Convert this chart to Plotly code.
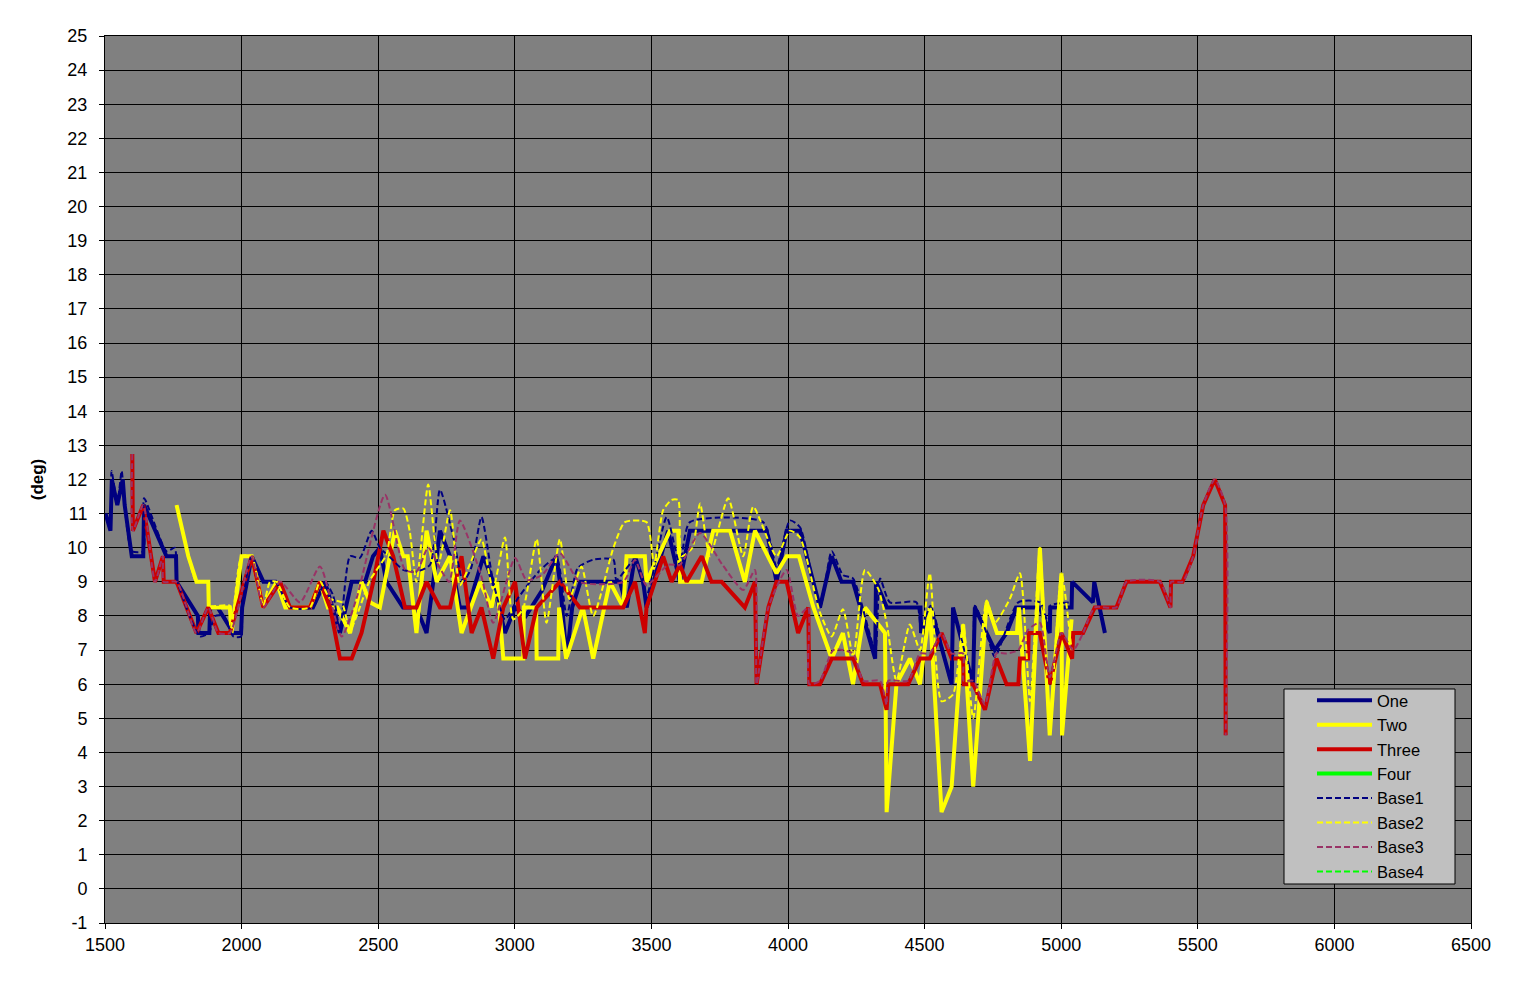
import plotly.graph_objects as go

# --- solid series ---
one_x = [1502, 1520, 1525, 1545, 1565, 1572, 1598, 1640, 1643, 1725, 1760, 1762, 1840, 1842,
         1882, 1885, 1912, 1970, 1998, 2002, 2037, 2080, 2124, 2177, 2261, 2305, 2360, 2403,
         2452, 2481, 2506, 2530, 2591, 2640, 2677, 2726, 2763, 2799, 2830, 2885, 2921, 2964,
         3001, 3040, 3100, 3152, 3165, 3190, 3210, 3240, 3385, 3410, 3440, 3470, 3482, 3561,
         3604, 3641, 3922, 3958, 3995, 4044, 4117, 4160, 4196, 4238, 4319, 4322, 4362, 4485,
         4487, 4522, 4599, 4604, 4677, 4684, 4727, 4757, 4800, 4837, 4922, 4958, 4960, 5038,
         5040, 5116, 5121, 5160]
one_y = [11.0, 10.5, 12.0, 11.25, 12.0, 11.25, 9.75, 9.75, 11.25, 9.75, 9.75, 9.0, 8.0, 7.5,
         7.5, 8.25, 8.25, 7.5, 7.5, 8.25, 9.75, 9.0, 9.0, 8.25, 8.25, 9.0, 7.5, 9.0,
         9.0, 9.75, 10.0, 9.0, 8.25, 8.25, 7.5, 10.5, 9.75, 8.25, 8.25, 9.75, 9.0, 7.5,
         8.25, 8.0, 8.75, 9.75, 9.0, 6.75, 8.25, 9.0, 9.0, 8.25, 9.75, 9.0, 8.25, 10.5,
         9.0, 10.5, 10.5, 9.0, 10.5, 10.5, 8.25, 9.75, 9.0, 9.0, 6.75, 9.0, 8.25, 8.25,
         7.5, 8.25, 6.0, 8.25, 6.0, 8.25, 7.5, 7.0, 7.5, 8.25, 8.25, 7.5, 8.25, 8.25,
         9.0, 8.4, 9.0, 7.5]

two_x = [1762, 1805, 1835, 1878, 1880, 1957, 1963, 2000, 2037, 2079, 2128, 2160, 2250, 2287,
         2316, 2350, 2397, 2439, 2470, 2506, 2561, 2592, 2608, 2640, 2677, 2714, 2763, 2805,
         2873, 2915, 2935, 2958, 3031, 3033, 3078, 3080, 3159, 3162, 3188, 3249, 3287, 3348,
         3397, 3409, 3476, 3482, 3568, 3598, 3605, 3684, 3726, 3788, 3842, 3879, 3958, 3995,
         4040, 4093, 4160, 4201, 4238, 4282, 4355, 4361, 4397, 4446, 4483, 4519, 4562, 4599,
         4641, 4678, 4727, 4765, 4838, 4845, 4886, 4922, 4958, 5001, 5003, 5038]
two_y = [11.25, 9.75, 9.0, 9.0, 8.25, 8.25, 7.5, 9.75, 9.75, 8.25, 9.0, 8.25, 8.25, 9.0,
         8.25, 8.25, 7.5, 9.0, 8.4, 8.25, 10.5, 9.75, 9.75, 7.5, 10.5, 9.0, 9.75, 7.5,
         9.0, 8.25, 9.0, 6.75, 6.75, 8.25, 8.25, 6.75, 6.75, 8.25, 6.75, 8.25, 6.75, 9.0,
         8.25, 9.75, 9.75, 9.0, 10.5, 10.5, 9.0, 9.0, 10.5, 10.5, 9.0, 10.5, 9.25, 9.75,
         9.75, 8.25, 6.75, 7.5, 6.0, 8.25, 7.5, 2.25, 6.0, 6.75, 6.0, 8.25, 2.25, 3.0,
         7.75, 3.0, 8.4, 7.5, 7.5, 8.25, 3.75, 10.0, 4.5, 9.25, 4.5, 7.9]

three_x = [1600, 1602, 1640, 1683, 1712, 1715, 1762, 1835, 1878, 1915, 1957, 2037, 2079, 2141,
           2177, 2250, 2287, 2324, 2360, 2403, 2439, 2482, 2519, 2555, 2598, 2640, 2677, 2726,
           2763, 2805, 2842, 2878, 2921, 2958, 3001, 3037, 3080, 3165, 3238, 3397, 3440, 3476,
           3482, 3543, 3574, 3604, 3629, 3684, 3720, 3757, 3842, 3879, 3885, 3928, 3958, 3995,
           4037, 4074, 4078, 4117, 4160, 4239, 4275, 4337, 4361, 4367, 4440, 4483, 4519, 4562,
           4599, 4641, 4643, 4678, 4721, 4763, 4800, 4843, 4849, 4879, 4881, 4922, 4958, 5001,
           5040, 5044, 5080, 5123, 5202, 5239, 5361, 5400, 5402, 5444, 5483, 5520, 5562, 5600,
           5602]
three_y = [12.75, 10.5, 11.25, 9.0, 9.75, 9.0, 9.0, 7.5, 8.25, 7.5, 7.5, 9.75, 8.25, 9.0,
           8.25, 8.25, 9.0, 8.25, 6.75, 6.75, 7.5, 9.0, 10.5, 9.75, 8.25, 8.25, 9.0, 8.25,
           8.25, 9.75, 7.5, 8.25, 6.75, 8.25, 9.0, 6.75, 8.25, 9.0, 8.25, 8.25, 9.0, 7.5,
           8.25, 9.75, 9.0, 9.5, 9.0, 9.75, 9.0, 9.0, 8.25, 9.0, 6.0, 8.25, 9.0, 9.0,
           7.5, 8.25, 6.0, 6.0, 6.75, 6.75, 6.0, 6.0, 5.25, 6.0, 6.0, 6.75, 6.75, 7.5,
           6.75, 6.75, 6.0, 6.0, 5.25, 6.75, 6.0, 6.0, 6.75, 6.75, 7.5, 7.5, 6.0, 7.5,
           6.75, 7.5, 7.5, 8.25, 8.25, 9.0, 9.0, 8.25, 9.0, 9.0, 9.75, 11.25, 12.0, 11.25,
           4.5]

four_x = []
four_y = []

# --- baseline (smoothed, dashed) series ---
base1_x = [1502, 1520, 1524, 1545, 1561, 1572, 1598, 1640, 1643, 1725, 1756, 1762, 1848, 1880,
           1903, 1935, 1970, 1998, 2002, 2037, 2080, 2124, 2177, 2261, 2305, 2335, 2360, 2397,
           2433, 2476, 2506, 2540, 2592, 2640, 2690, 2726, 2775, 2811, 2840, 2878, 2921, 2964,
           3010, 3056, 3100, 3153, 3190, 3230, 3287, 3361, 3372, 3440, 3482, 3556, 3604, 3641,
           3909, 3958, 4007, 4044, 4117, 4160, 4201, 4238, 4319, 4337, 4373, 4470, 4487, 4522,
           4599, 4604, 4677, 4684, 4727, 4757, 4843, 4922, 4958, 4960, 5038]
base1_y = [11.0, 10.5, 12.25, 11.3, 12.25, 11.25, 9.9, 9.9, 11.45, 9.9, 10.0, 9.1, 7.4, 7.5,
           8.0, 8.0, 7.4, 7.4, 8.25, 9.75, 9.0, 9.0, 8.25, 8.25, 9.0, 8.6, 7.6, 9.75,
           9.7, 10.5, 10.0, 9.75, 9.35, 9.3, 9.5, 11.7, 10.3, 9.0, 9.4, 10.9, 9.0, 7.9,
           8.5, 9.0, 9.4, 9.7, 8.0, 9.4, 9.65, 9.65, 9.05, 9.65, 8.6, 10.9, 9.5, 10.75,
           10.75, 9.45, 10.8, 10.6, 8.25, 9.9, 9.2, 9.1, 7.0, 9.1, 8.4, 8.4, 7.6, 8.3,
           6.0, 8.2, 6.1, 8.3, 7.5, 6.8, 8.4, 8.4, 7.6, 8.3, 8.4]

base2_x = [1762, 1805, 1835, 1878, 1880, 1957, 1963, 2000, 2037, 2079, 2104, 2128, 2177, 2250,
           2287, 2324, 2366, 2397, 2470, 2530, 2561, 2592, 2615, 2640, 2683, 2720, 2763, 2799,
           2840, 2878, 2920, 2964, 2994, 3030, 3080, 3116, 3165, 3200, 3244, 3287, 3361, 3403,
           3482, 3510, 3543, 3574, 3598, 3610, 3650, 3678, 3714, 3781, 3836, 3873, 3958, 4007,
           4044, 4117, 4160, 4201, 4239, 4282, 4330, 4361, 4397, 4446, 4483, 4519, 4562, 4604,
           4641, 4678, 4727, 4757, 4812, 4849, 4886, 4922, 4958, 5001, 5038]
base2_y = [11.25, 9.75, 9.0, 9.0, 8.3, 8.3, 7.6, 9.75, 9.75, 8.3, 9.0, 9.0, 8.25, 8.25,
           9.0, 8.5, 8.4, 7.6, 9.05, 9.8, 11.1, 11.15, 10.5, 9.0, 11.85, 9.5, 11.1, 8.9,
           9.6, 10.25, 8.8, 10.3, 7.9, 8.2, 10.25, 7.8, 10.25, 8.5, 9.45, 8.0, 10.0, 10.75,
           10.75, 9.5, 11.1, 11.4, 11.4, 9.75, 10.0, 11.3, 9.75, 11.45, 9.75, 11.2, 9.75, 10.5,
           10.3, 8.1, 7.4, 8.2, 6.8, 9.35, 8.8, 7.8, 6.1, 7.75, 7.0, 9.25, 5.5, 5.7,
           7.75, 5.0, 8.45, 7.8, 8.5, 9.25, 5.5, 10.0, 5.0, 9.25, 7.0]

base3_x = [1600, 1602, 1640, 1683, 1712, 1715, 1762, 1835, 1878, 1915, 1957, 2037, 2079, 2141,
           2214, 2287, 2366, 2420, 2525, 2598, 2640, 2683, 2726, 2760, 2799, 2878, 2921, 3001,
           3043, 3100, 3165, 3238, 3397, 3440, 3482, 3561, 3604, 3678, 3760, 3836, 3879, 3885,
           3928, 3995, 4037, 4074, 4078, 4117, 4166, 4239, 4275, 4337, 4361, 4367, 4440, 4483,
           4519, 4562, 4599, 4641, 4643, 4678, 4721, 4763, 4800, 4843, 4879, 4922, 4958, 5001,
           5044, 5080, 5123, 5202, 5239, 5361, 5400, 5402, 5444, 5483, 5520, 5562, 5600, 5602]
base3_y = [12.75, 10.5, 11.25, 9.0, 9.75, 9.0, 9.0, 7.5, 8.25, 7.5, 7.5, 9.75, 8.25, 9.0,
           8.4, 9.45, 7.4, 8.5, 11.55, 9.35, 9.3, 10.0, 9.4, 9.0, 10.8, 9.15, 7.8, 9.7,
           9.05, 9.2, 9.84, 9.0, 9.0, 9.64, 8.9, 9.5, 9.5, 10.43, 9.5, 8.76, 9.35, 6.0,
           8.25, 9.35, 8.0, 8.25, 6.0, 6.1, 7.0, 6.9, 6.1, 6.1, 5.4, 6.1, 6.1, 6.9,
           6.9, 7.5, 6.9, 6.9, 6.1, 6.1, 5.4, 6.9, 6.9, 7.0, 7.6, 7.8, 6.2, 7.5,
           7.0, 7.5, 8.25, 8.25, 9.0, 9.0, 8.25, 9.0, 9.0, 9.75, 11.25, 12.0, 11.25, 4.5]

base4_x = []
base4_y = []

y_tick_vals = list(range(-1, 26))
y_tick_text = [str(v) for v in y_tick_vals]

fig = go.Figure()

solid = [("One", one_x, one_y, "#000080"),
         ("Two", two_x, two_y, "#FFFF00"),
         ("Three", three_x, three_y, "#CC0000"),
         ("Four", four_x, four_y, "#00FF00")]
for name, xs, ys, col in solid:
    fig.add_trace(go.Scatter(x=xs or [None], y=ys or [None], name=name, mode="lines",
                             line=dict(color=col, width=4)))

dashed = [("Base1", base1_x, base1_y, "#000080"),
          ("Base2", base2_x, base2_y, "#FFFF00"),
          ("Base3", base3_x, base3_y, "#993366"),
          ("Base4", base4_x, base4_y, "#00FF00")]
for name, xs, ys, col in dashed:
    fig.add_trace(go.Scatter(x=xs or [None], y=ys or [None], name=name, mode="lines",
                             line=dict(color=col, width=2, dash="6px,3px",
                                       shape="spline", smoothing=0.6)))

# legend box drawn as a shape so it can be wider than plotly's own legend
fig.add_shape(type="rect", xref="paper", yref="paper",
              x0=(1284 - 105) / 1366, x1=(1455 - 105) / 1366,
              y0=(923 - 884) / 887, y1=(923 - 689) / 887,
              fillcolor="#C0C0C0", line=dict(color="black", width=1), layer="above")

# page body has an 8px margin, so the margins are shifted to compensate
fig.update_layout(
    width=1534, height=992,
    margin=dict(l=97, r=71, t=28, b=77, autoexpand=False),
    paper_bgcolor="white",
    plot_bgcolor="#808080",
    font=dict(family="Arial, Liberation Sans", size=18, color="black"),
    legend=dict(x=(1312 - 105) / 1366, y=(923 - 683) / 887, xanchor="left", yanchor="top",
                bgcolor="rgba(0,0,0,0)", borderwidth=0,
                font=dict(size=16.5), itemwidth=55, tracegroupgap=0),
)
fig.update_xaxes(range=[1500, 6500], dtick=500, tick0=1500, automargin=False,
                 showgrid=True, gridcolor="black", gridwidth=1,
                 showline=True, linecolor="black", mirror=True,
                 ticks="outside", ticklen=5, tickcolor="black", zeroline=False)
fig.update_yaxes(range=[-1, 25], tickvals=y_tick_vals, ticktext=y_tick_text, automargin=False,
                 showgrid=True, gridcolor="black", gridwidth=1,
                 showline=True, linecolor="black", mirror=True,
                 ticks="outside", ticklen=5, tickcolor="black", zeroline=False,
                 ticklabelstandoff=8,
                 title=dict(text="<b>(deg)</b>", font=dict(size=17), standoff=19))

fig.write_html("out.html")
